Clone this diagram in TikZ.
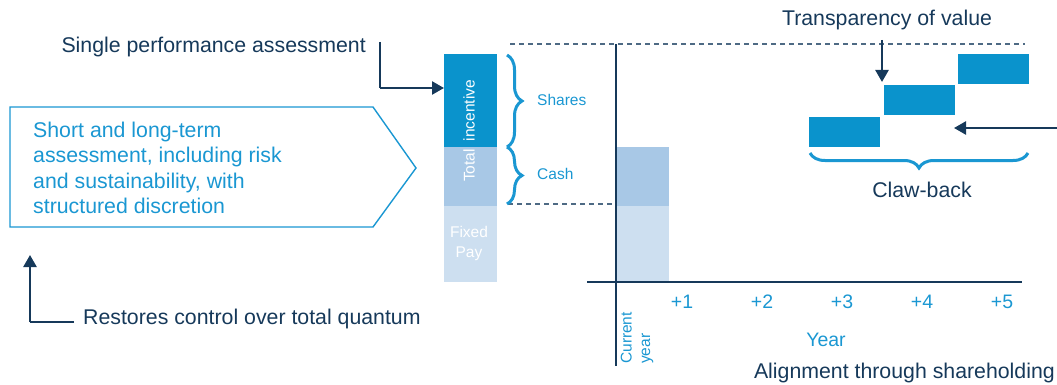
\documentclass[tikz,border=0pt]{standalone}
\usepackage{fontspec}
\setmainfont{Liberation Sans}
\usetikzlibrary{arrows.meta,decorations.pathreplacing}
\definecolor{navy}{HTML}{16395A}
\definecolor{sky}{HTML}{1A97D2}
\definecolor{barblue}{HTML}{0A93CC}
\definecolor{midblue}{HTML}{A8C8E6}
\definecolor{paleblue}{HTML}{CDDFF0}
\definecolor{dashcol}{HTML}{4E6A84}
\tikzset{
  darktext/.style={text=navy,font=\fontsize{21.3}{25}\selectfont,inner sep=0pt},
  bluetext/.style={text=sky,font=\fontsize{21.3}{25.5}\selectfont,inner sep=0pt},
  smalltext/.style={text=sky,font=\fontsize{15.5}{17}\selectfont,inner sep=0pt},
  whitetext/.style={text=white,font=\fontsize{15.5}{20}\selectfont,inner sep=0pt},
  yeartext/.style={text=sky,font=\fontsize{19.5}{22}\selectfont,inner sep=0pt},
  navyarrow/.style={draw=navy,line width=2.4pt,-{Triangle[length=12pt,width=13pt]}},
  navyline/.style={draw=navy,line width=2.4pt},
  axisline/.style={draw=navy,line width=1.5pt},
  dashline/.style={draw=dashcol,line width=1.4pt,dash pattern=on 5pt off 4pt},
  bracestyle/.style={draw=sky,line width=3pt,decorate,decoration={brace,amplitude=15pt}},
  bluebox/.style={fill=barblue,draw=none},
}
\begin{document}
\begin{tikzpicture}[x=1pt,y=-1pt]
\useasboundingbox (0,0) rectangle (1057,385);

% stacked bar
\fill[barblue] (444,54) rectangle (497,147);
\fill[midblue] (444,147) rectangle (497,206);
\fill[paleblue] (444,206) rectangle (497,282);
\node[whitetext,rotate=90] (ti) at (469,131) {Total\hspace{8pt}incentive};
\node[whitetext,align=center] (fp) at (469,243) {Fixed\\Pay};
\coordinate (bartop) at (444,88);

% current year bar
\fill[midblue] (617,147) rectangle (669,206);
\fill[paleblue] (617,206) rectangle (669,282);

% dashed lines
\coordinate (d1a) at (510,44); \coordinate (d1b) at (1025,44);
\coordinate (d2a) at (508,204); \coordinate (d2b) at (613,204);
\draw[dashline] (d1a) -- (d1b);
\draw[dashline] (d2a) -- (d2b);

% axes
\coordinate (vtop) at (616,44); \coordinate (vbot) at (616,366);
\coordinate (hl) at (587,282); \coordinate (hr) at (1022,282);
\draw[axisline] (vtop) -- (vbot);
\draw[axisline] (hl) -- (hr);

% braces
\draw[bracestyle] (507,55) -- (507,147);
\draw[bracestyle] (507,147) -- (507,204);
\node[smalltext,anchor=west] (shares) at (537,100) {Shares};
\node[smalltext,anchor=west] (cash) at (537,174) {Cash};

% single performance assessment
\node[darktext,anchor=east] (spa) at (366,47) {Single performance assessment};
\coordinate (spa1) at (380,42);
\coordinate (spa2) at (380,88);
\draw[navyline] (spa1) -- (spa2);
\draw[navyarrow] (spa2) -- (bartop);

% pentagon
\draw[draw=sky,line width=1.4pt] (10,107) -- (373,107) -- (416,168) -- (373,227) -- (10,227) -- cycle;
\node[bluetext,anchor=west,align=left] (box) at (33,168) {Short and long-term\\assessment, including risk\\and sustainability, with\\structured discretion};

% restores control
\node[darktext,anchor=west] (rc) at (83,319) {Restores control over total quantum};
\coordinate (rc1) at (74,322);
\coordinate (rc2) at (30,322);
\coordinate (rc3) at (30,255);
\draw[navyline] (rc1) -- (rc2);
\draw[navyarrow] (rc2) -- (rc3);

% year labels
\node[yeartext] (y1) at (682,302) {+1};
\node[yeartext] (y2) at (762,302) {+2};
\node[yeartext] (y3) at (842,302) {+3};
\node[yeartext] (y4) at (922,302) {+4};
\node[yeartext] (y5) at (1002,302) {+5};
\node[yeartext] (yr) at (826,340) {Year};
\node[smalltext,rotate=90,anchor=west,align=left,font=\fontsize{15.5}{18.5}\selectfont] (cy) at (637,364) {Current\\year};
\node[darktext,anchor=east] (align) at (1055,373) {Alignment through shareholding};

% share blocks
\fill[bluebox] (809,117) rectangle (880,147);
\fill[bluebox] (884,85) rectangle (955,115);
\fill[bluebox] (958,54) rectangle (1029,84);
\coordinate (b2top) at (882,82);
\coordinate (b2right) at (954,128);
\coordinate (redge) at (1057,128);

% transparency
\node[darktext] (tv) at (887,20) {Transparency of value};
\coordinate (tvs) at (882,40);
\draw[navyarrow] (tvs) -- (b2top);
\draw[navyarrow] (redge) -- (b2right);

% claw-back
\draw[bracestyle] (1028,153) -- (810,153);
\node[darktext] (cb) at (922,190) {Claw-back};
\end{tikzpicture}
\end{document}
